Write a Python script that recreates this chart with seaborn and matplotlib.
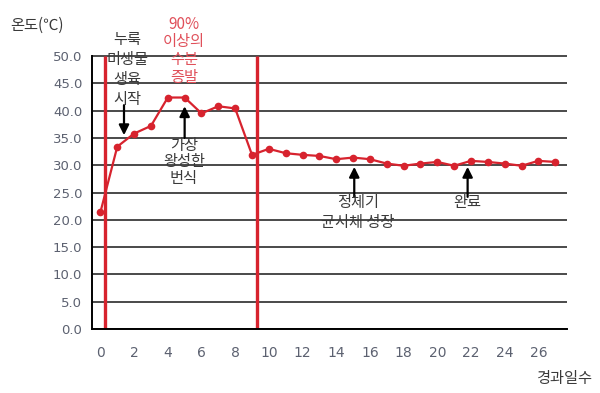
import numpy as np
import pandas as pd
import matplotlib
matplotlib.use("Agg")
import matplotlib.pyplot as plt
import seaborn as sns

sns.set_style("white")
plt.rcParams["font.family"] = ["Noto Sans CJK KR", "DejaVu Sans"]

# =========================
# DATA
# =========================
days = list(range(28))
temps = [21.4, 33.4, 35.8, 37.2, 42.4, 42.4, 39.5, 40.8, 40.4, 31.9,
         33.0, 32.2, 31.9, 31.7, 31.1, 31.4, 31.1, 30.3, 29.9, 30.3,
         30.6, 29.9, 30.8, 30.6, 30.3, 29.9, 30.8, 30.6]
phase_bounds = [0.25, 9.3]
y_ticks = [0, 5, 10, 15, 20, 25, 30, 35, 40, 45, 50]
x_labels = list(range(0, 27, 2))

df = pd.DataFrame({"day": days, "temp": temps})

RED = "#d7232e"
GRID = "#3c3c3c"
TXT = "#3a3a3a"
TICK = "#5c6170"

fig = plt.figure(figsize=(6, 3.93), dpi=100)
ax = fig.add_axes([92 / 600, 1 - 329 / 393, (567 - 92) / 600, (329 - 53.3) / 393])

# grid lines
for v in y_ticks:
    ax.axhline(v, color=GRID, lw=1.3, zorder=1)

# phase boundaries
for b in phase_bounds:
    ax.plot([b, b], [0, 50], color=RED, lw=2.4, zorder=2, solid_capstyle="butt")

sns.lineplot(data=df, x="day", y="temp", ax=ax, color=RED, lw=1.6,
             marker="o", markersize=5.5, markeredgewidth=0, zorder=3)

ax.set_xlim(-0.475, 27.7)
ax.set_ylim(0, 50.5)
ax.set_yticks(y_ticks)
ax.set_yticklabels([f"{v:.1f}" for v in y_ticks], color=TICK, fontsize=9.5, family="DejaVu Sans")
ax.set_xticks(x_labels)
ax.set_xticklabels([str(v) for v in x_labels], color=TICK, fontsize=10, family="DejaVu Sans")
ax.set_xticks(np.arange(-0.5, 27, 1.0), minor=True)
ax.tick_params(axis="x", which="major", length=0, pad=12)
ax.tick_params(axis="x", which="minor", length=5, width=1.3, color="black", direction="out")
ax.tick_params(axis="y", which="major", length=4, width=1.3, color="black", direction="out", pad=3)
ax.set_xlabel("")
ax.set_ylabel("")

for s in ["top", "right"]:
    ax.spines[s].set_visible(False)
for s in ["left", "bottom"]:
    ax.spines[s].set_color("black")
    ax.spines[s].set_linewidth(1.4)
ax.spines["left"].set_bounds(0, 50)

# axis titles
fig.text(10 / 600, 1 - 25 / 393, "온도(℃)", fontsize=11, color=TXT, va="center", ha="left")
fig.text(592 / 600, 1 - 378 / 393, "경과일수", fontsize=11, color=TXT, va="center", ha="right")

# annotations
arrow = dict(arrowstyle="-|>", color="black", lw=1.6, mutation_scale=15, shrinkA=0, shrinkB=0)
ax.annotate("", xy=(1.4, 35.5), xytext=(1.4, 41.0), arrowprops=arrow)
ax.annotate("", xy=(5.0, 40.8), xytext=(5.0, 35.0), arrowprops=arrow)
ax.annotate("", xy=(15.07, 29.7), xytext=(15.07, 24.2), arrowprops=arrow)
ax.annotate("", xy=(21.8, 29.7), xytext=(21.8, 24.2), arrowprops=arrow)

ax.text(1.6, 47.5, "누룩\n미생물\n생육\n시작", ha="center", va="center", fontsize=11,
        color=TXT, linespacing=1.22, clip_on=False)
ax.text(4.95, 51.0, "90%\n이상의\n수분\n증발", ha="center", va="center", fontsize=11,
        color="#e0505a", linespacing=1.05, clip_on=False)
ax.text(4.95, 30.6, "가장\n왕성한\n번식", ha="center", va="center", fontsize=11,
        color=TXT, linespacing=0.98)
ax.text(15.3, 21.3, "정체기\n균시체 성장", ha="center", va="center", fontsize=11,
        color=TXT, linespacing=1.22)
ax.text(21.8, 23.1, "완료", ha="center", va="center", fontsize=11, color=TXT)

plt.savefig("out.png", dpi=100)
